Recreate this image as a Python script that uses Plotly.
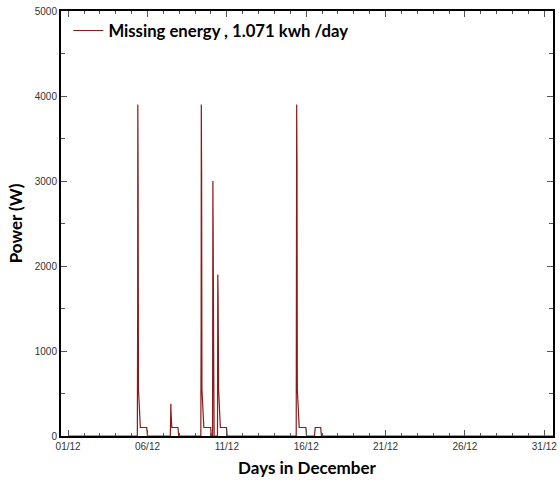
import plotly.graph_objects as go

# Time in days of December (1 = 01/12) and power in W
day = [1.0,
       5.36, 5.38, 5.39, 5.41, 5.43, 5.47, 5.55, 5.95, 6.00,
       7.44, 7.47, 7.49, 7.53, 7.92, 7.97,
       9.36, 9.38, 9.39, 9.41, 9.43, 9.47, 9.55, 9.98, 10.02,
       10.10, 10.12, 10.14, 10.17, 10.20,
       10.41, 10.43, 10.45, 10.48, 10.52, 10.59, 10.98, 11.02,
       15.37, 15.39, 15.40, 15.42, 15.44, 15.48, 15.56, 15.98, 16.02,
       16.52, 16.57, 16.91, 16.96,
       31.6]
power = [0,
         0, 1500, 3900, 3050, 550, 400, 100, 100, 0,
         0, 380, 250, 100, 100, 0,
         0, 1300, 3900, 3050, 550, 400, 100, 100, 0,
         0, 3000, 2300, 900, 0,
         0, 1900, 1600, 550, 400, 100, 100, 0,
         0, 1400, 3900, 3200, 550, 400, 100, 100, 0,
         0, 100, 100, 0,
         0]

tick_days = [1, 6, 11, 16, 21, 26, 31]
tick_labels = ["01/12", "06/12", "11/12", "16/12", "21/12", "26/12", "31/12"]
y_ticks = [0, 1000, 2000, 3000, 4000, 5000]

fig = go.Figure()
fig.add_trace(go.Scatter(
    x=day, y=power, mode="lines",
    line=dict(color="#8B1A1A", width=1.2),
    name="<b>Missing energy , 1.071 kwh /day</b>",
))

fig.update_layout(
    width=560, height=482,
    margin=dict(l=61, r=3, t=11, b=46),
    paper_bgcolor="white", plot_bgcolor="white",
    showlegend=True,
    legend=dict(x=0.015, y=0.995, xanchor="left", yanchor="top",
                bgcolor="rgba(0,0,0,0)",
                font=dict(family="Lato", size=16.7, color="black"),
                itemwidth=30),
    font=dict(family="Liberation Sans", size=10, color="#333"),
)
fig.update_xaxes(
    range=[0.55, 31.55],
    tickmode="array", tickvals=tick_days, ticktext=tick_labels,
    ticks="inside", ticklen=6, tickcolor="#555", tickwidth=1,
    minor=dict(dtick=1, ticks="inside", ticklen=3, tickcolor="#555", showgrid=False),
    showline=True, linecolor="black", linewidth=2, mirror="ticks",
    showgrid=False, zeroline=False,
    tickfont=dict(family="Liberation Sans", size=10, color="#333"),
    title=dict(text="<b>Days in December</b>", standoff=11,
               font=dict(family="Lato", size=17, color="black")),
)
fig.update_yaxes(
    range=[0, 5000],
    tickmode="array", tickvals=y_ticks,
    ticks="inside", ticklen=6, tickcolor="#555", tickwidth=1,
    minor=dict(dtick=500, ticks="inside", ticklen=4, tickcolor="#555", showgrid=False),
    showline=True, linecolor="black", linewidth=2, mirror="ticks",
    showgrid=False, zeroline=False,
    tickfont=dict(family="Liberation Sans", size=10, color="#333"),
    title=dict(text="<b>Power (W)</b>", standoff=8,
               font=dict(family="Lato", size=17, color="black")),
)

fig.write_html("out.html")
